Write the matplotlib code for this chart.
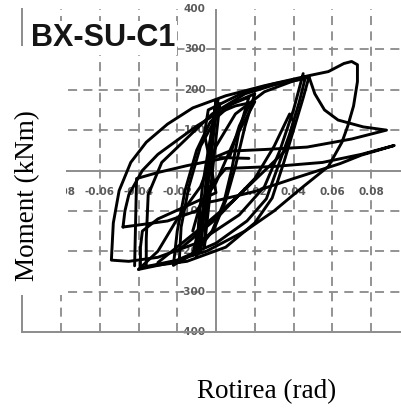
import matplotlib
matplotlib.use('Agg')
import matplotlib.pyplot as plt
from matplotlib.patches import Rectangle

# ---- tick values ----
rot_ticks = [-0.08, -0.06, -0.04, -0.02, 0.02, 0.04, 0.06, 0.08]
rot_labels = ['-0.08', '-0.06', '-0.04', '-0.02', '0.02', '0.04', '0.06', '0.08']
mom_ticks = [400, 300, 200, 100, -100, -200, -300, -400]
mom_labels = ['400', '300', '200', '100', '-100', '-200', '-300', '-400']

# ---- hysteresis cycles (rotation rad, moment kNm) ----
c1_x = [-0.008, -0.007, -0.005, -0.003, -0.001, 0.000, -0.002, -0.004, -0.006, -0.008]
c1_y = [-200, -110, -20, 70, 140, 172, 90, 0, -100, -200]
c2_x = [-0.010, -0.009, -0.007, -0.004, -0.001, 0.001, -0.001, -0.003, -0.006, -0.010]
c2_y = [-215, -130, -40, 50, 130, 176, 100, 10, -90, -215]
c3_x = [-0.006, -0.005, -0.004, -0.002, 0.000, 0.002, 0.000, -0.002, -0.004, -0.006]
c3_y = [-190, -100, -10, 80, 150, 166, 80, -10, -100, -190]

c4_x = [0.017, 0.012, 0.008, 0.004, -0.002, -0.012, -0.022, -0.020, -0.016, -0.010, -0.003, 0.006, 0.017]
c4_y = [182, 100, 0, -80, -150, -205, -235, -150, -50, 50, 120, 160, 182]
c5_x = [0.020, 0.015, 0.010, 0.005, -0.001, -0.010, -0.019, -0.018, -0.014, -0.008, 0.000, 0.009, 0.020]
c5_y = [190, 110, 10, -75, -145, -200, -228, -140, -40, 60, 130, 168, 190]

c6_x = [0.048, 0.045, 0.040, 0.035, 0.029, 0.020, 0.005, -0.015, -0.039, -0.039, -0.038, -0.030, 0.000,
        -0.003, -0.006, -0.004, 0.015, 0.030, 0.048]
c6_y = [232, 180, 100, 20, -68, -130, -190, -225, -240, -190, -150, -120, -55,
        20, 90, 150, 195, 215, 232]
c7_x = [0.046, 0.043, 0.038, 0.032, 0.026, 0.016, 0.000, -0.020, -0.036, -0.036, -0.035, -0.028, -0.015,
        -0.002, 0.015, 0.030, 0.046]
c7_y = [228, 170, 90, 10, -70, -125, -180, -222, -238, -170, -60, 20, 80,
        140, 190, 212, 228]

c8_x = [-0.048, -0.047, -0.045, -0.038, -0.030, -0.020, -0.010, 0.000, 0.010, 0.020, 0.010, 0.000, -0.010,
        -0.025, -0.040, -0.048]
c8_y = [-140, -100, -60, 0, 40, 75, 110, 140, 160, 170, 80, -30, -100,
        -125, -135, -140]

c9_x = [0.045, 0.040, 0.033, 0.025, 0.012, -0.010, -0.030, -0.045, -0.054, -0.053, -0.050, -0.044,
        -0.036, -0.025, -0.012, 0.005, 0.025, 0.048, 0.058, 0.066, 0.070, 0.073, 0.073, 0.071,
        0.068, 0.065, 0.058, 0.045, 0.030, 0.015, -0.005, -0.025, -0.040]
c9_y = [240, 150, 50, -40, -110, -180, -215, -225, -222, -130, -50, 20,
        70, 115, 155, 185, 210, 235, 245, 265, 270, 262, 220, 160,
        110, 70, 10, -40, -100, -150, -200, -230, -245]

c10_x = [-0.040, -0.030, -0.020, -0.008, 0.000, 0.010, 0.025, 0.040, 0.048, 0.051, 0.056, 0.063,
         0.076, 0.088, 0.070, 0.047, 0.025, 0.007, -0.002, -0.005, -0.008, -0.012, -0.008,
         -0.003, 0.005, 0.030, 0.055, 0.075, 0.092, 0.085, 0.075, 0.064, 0.040, 0.020, 0.000,
         -0.008, -0.012]
c10_y = [-245, -200, -120, -40, 60, 140, 195, 222, 232, 190, 150, 125,
         108, 100, 78, 58, 52, 48, 30, -60, -150, -210, -120,
         -40, 5, 10, 20, 40, 62, 52, 38, 17, -20, -52, -75,
         -82, -150]

c11_x = [-0.030, -0.008, 0.010, 0.036, 0.040, 0.038, 0.030, 0.020, 0.000, -0.020]
c11_y = [-228, -143, -70, 50, 120, 140, 60, -20, -120, -200]

c12_x = [-0.042, -0.041, -0.030, -0.015, 0.007, 0.012, 0.017]
c12_y = [-236, -20, -5, 12, 33, 110, 160]

c13_x = [0.002, 0.010, 0.017]
c13_y = [32, 31, 30]

cycles = [(c1_x, c1_y), (c2_x, c2_y), (c3_x, c3_y), (c4_x, c4_y), (c5_x, c5_y),
          (c6_x, c6_y), (c7_x, c7_y), (c8_x, c8_y), (c9_x, c9_y), (c10_x, c10_y),
          (c11_x, c11_y), (c12_x, c12_y), (c13_x, c13_y)]

W, H = 401, 408
fig = plt.figure(figsize=(W / 100, H / 100), dpi=100)
ax = fig.add_axes([22.25 / W, 1 - 332 / H, 387.5 / W, 323 / H])
ax.set_xlim(-0.1, 0.1)
ax.set_ylim(-400, 400)
ax.set_xticks([])
ax.set_yticks([])
for s in ['top', 'right']:
    ax.spines[s].set_visible(False)
for s in ['left', 'bottom']:
    ax.spines[s].set_color('#8c8c8c')
    ax.spines[s].set_linewidth(1.4)

grid_col = '#8a8a8a'
for xv in rot_ticks:
    ax.axvline(xv, color=grid_col, lw=1.3, ls=(0, (5, 3.5)), zorder=1)
for yv in mom_ticks[1:-1]:
    ax.axhline(yv, color=grid_col, lw=1.3, ls=(0, (5, 3.5)), zorder=1)
ax.axhline(0, color='#8c8c8c', lw=1.4, zorder=1)
ax.axvline(0, color='#8c8c8c', lw=1.4, zorder=1)

for xv, lab in zip(rot_ticks, rot_labels):
    ax.annotate(lab, (xv, 0), xytext=(0, -15.5), textcoords='offset points',
                ha='center', va='center', fontsize=7.5, fontweight='bold',
                color='#5a5a5a', zorder=2)
for yv, lab in zip(mom_ticks, mom_labels):
    ax.annotate(lab, (0, yv), xytext=(-7.5, 0), textcoords='offset points',
                ha='right', va='center', fontsize=7.5, fontweight='bold',
                color='#5a5a5a', zorder=2, annotation_clip=False)

for cx, cy in cycles:
    ax.plot(cx, cy, color='black', lw=2.1, solid_joinstyle='round',
            solid_capstyle='round', zorder=3)

# white panel over the left part (label area)
fig.patches.append(Rectangle((0, 1 - 295 / H), 66 / W, 249 / H, transform=fig.transFigure,
                             facecolor='white', edgecolor='none', zorder=5))

fig.text(31 / W, 1 - 46 / H, 'BX-SU-C1', fontsize=22, family='Liberation Sans',
         fontweight='bold', ha='left', va='baseline', color='#151515', zorder=6,
         bbox=dict(facecolor='white', edgecolor='none', pad=1))

fig.text(28 / W, 1 - 196 / H, 'Moment (kNm)', rotation=90, fontsize=19.5,
         family='Liberation Serif', ha='center', va='center', zorder=6)
fig.text(267 / W, 1 - 392 / H, 'Rotirea (rad)', fontsize=19.5,
         family='Liberation Serif', ha='center', va='center', zorder=6)

fig.savefig('out.png', dpi=100)
